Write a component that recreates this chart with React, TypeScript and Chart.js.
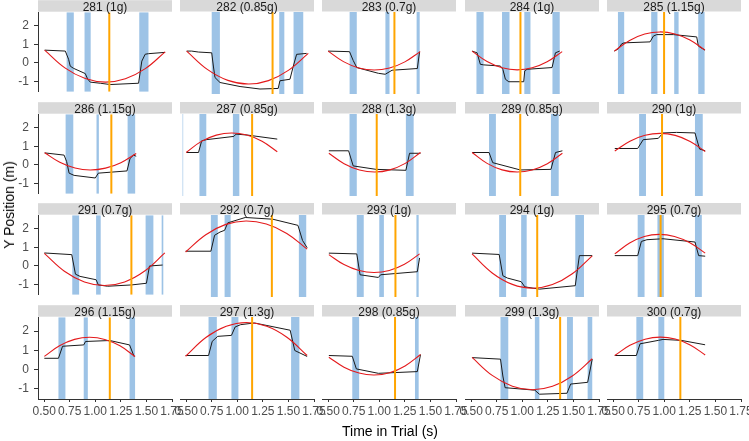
import React, { useEffect, useRef } from 'react';
import { Chart, registerables } from 'chart.js';

Chart.register(...registerables);

// ---------------- data ----------------
const trials = [281, 282, 283, 284, 285, 286, 287, 288, 289, 290, 291, 292, 293, 294, 295, 296, 297, 298, 299, 300];
const gLevels = ['1g', '0.85g', '0.7g', '1g', '1.15g', '1.15g', '0.85g', '1.3g', '0.85g', '1g', '0.7g', '0.7g', '1g', '1g', '0.7g', '1.15g', '1.3g', '0.85g', '1.3g', '0.7g'];

// orange vertical line (s)
const impactTimes = [1.137, 1.345, 1.148, 0.982, 0.998, 1.157, 1.145, 0.975, 0.98, 0.978, 1.353, 1.338, 1.158, 1.146, 0.964, 1.142, 1.145, 1.154, 1.37, 1.157];

// blue intervals [start, end] (s)
const bandIntervals = [
  [[0.72, 0.79], [0.895, 0.955], [1.43, 1.52]],
  [[0.75, 0.83], [1.41, 1.46], [1.55, 1.645]],
  [[0.71, 0.78], [1.06, 1.1], [1.365, 1.395]],
  [[0.552, 0.622], [0.802, 0.875], [1.02, 1.08], [1.295, 1.366]],
  [[0.547, 0.608], [0.872, 0.933], [1.097, 1.14], [1.332, 1.394]],
  [[0.71, 0.785], [1.012, 1.035], [1.316, 1.39]],
  [[0.465, 0.471], [0.63, 0.697], [0.957, 1.02]],
  [[0.709, 0.78], [1.26, 1.336]],
  [[0.675, 0.742], [1.28, 1.356]],
  [[0.754, 0.821], [1.3, 1.376]],
  [[0.775, 0.842], [1.008, 1.053], [1.492, 1.568], [1.649, 1.665]],
  [[0.742, 0.809], [0.876, 0.935], [1.602, 1.674]],
  [[0.78, 0.848], [1.0, 1.045], [1.363, 1.385]],
  [[0.774, 0.841], [0.989, 1.043], [1.518, 1.603]],
  [[0.74, 0.807], [0.933, 0.996], [1.3, 1.367]],
  [[0.64, 0.708], [0.887, 0.927], [1.335, 1.389]],
  [[0.719, 0.8], [0.943, 1.011], [1.526, 1.607]],
  [[0.736, 0.803], [1.349, 1.385]],
  [[0.787, 0.863], [1.123, 1.167], [1.437, 1.495], [1.639, 1.684]],
  [[0.727, 0.794], [0.942, 1.0]],
];

// black tracked position
const trackTimes = [
  [0.505, 0.707, 0.739, 0.755, 0.788, 0.902, 0.925, 0.951, 1.049, 1.146, 1.423, 1.455, 1.488, 1.52, 1.683],
  [0.505, 0.554, 0.62, 0.75, 0.766, 0.782, 0.831, 1.027, 1.222, 1.4, 1.417, 1.515, 1.548, 1.58, 1.678],
  [0.5, 0.709, 0.745, 0.78, 0.991, 1.058, 1.125, 1.372, 1.394],
  [0.509, 0.558, 0.59, 0.623, 0.786, 0.81, 0.835, 0.868, 1.014, 1.024, 1.047, 1.291, 1.324, 1.366],
  [0.512, 0.551, 0.584, 0.607, 0.861, 0.893, 0.926, 1.089, 1.317, 1.333, 1.398],
  [0.505, 0.695, 0.72, 0.744, 0.793, 1.0, 1.03, 1.31, 1.34, 1.374, 1.4],
  [0.505, 0.621, 0.652, 0.697, 0.966, 0.988, 1.1, 1.391],
  [0.507, 0.7, 0.745, 0.969, 1.26, 1.296, 1.403],
  [0.509, 0.675, 0.711, 0.98, 1.28, 1.325, 1.392],
  [0.516, 0.74, 0.794, 0.942, 0.987, 1.12, 1.3, 1.345, 1.4],
  [0.502, 0.77, 0.806, 0.851, 1.008, 1.03, 1.12, 1.353, 1.5, 1.53, 1.658],
  [0.495, 0.742, 0.778, 0.831, 0.876, 0.907, 1.078, 1.347, 1.593, 1.638, 1.683],
  [0.507, 0.78, 0.812, 0.991, 1.013, 1.372, 1.394],
  [0.509, 0.774, 0.81, 0.854, 0.989, 1.025, 1.168, 1.518, 1.558, 1.684],
  [0.516, 0.74, 0.776, 0.83, 0.987, 1.3, 1.336, 1.4],
  [0.502, 0.64, 0.68, 0.887, 0.905, 1.142, 1.335, 1.38],
  [0.495, 0.719, 0.755, 0.809, 0.943, 0.979, 1.033, 1.167, 1.517, 1.562, 1.683],
  [0.507, 0.736, 0.776, 0.991, 1.372, 1.403],
  [0.509, 0.787, 0.81, 0.832, 1.123, 1.167, 1.437, 1.473, 1.639, 1.684],
  [0.516, 0.727, 0.763, 0.942, 0.987, 1.166, 1.399],
];
const trackY = [
  [0.69, 0.64, 0.2, -0.17, -0.29, -0.57, -0.86, -1.03, -1.09, -1.16, -1.09, 0.1, 0.47, 0.5, 0.57],
  [0.69, 0.69, 0.64, 0.6, -0.09, -0.69, -0.95, -1.16, -1.29, -1.26, -0.86, -0.78, -0.09, 0.52, 0.57],
  [0.69, 0.66, 0.2, -0.17, -0.47, -0.52, -0.31, -0.22, 0.66],
  [0.69, 0.6, 0.0, -0.03, -0.09, -0.26, -0.78, -0.91, -0.91, -0.34, -0.26, -0.17, 0.6, 0.69],
  [0.69, 0.81, 1.07, 1.12, 1.17, 1.47, 1.55, 1.55, 1.43, 0.95, 0.74],
  [0.65, 0.53, 0.18, -0.44, -0.56, -0.7, -0.44, -0.32, 0.35, 0.53, 0.47],
  [0.72, 0.72, 1.33, 1.39, 1.56, 1.68, 1.63, 1.42],
  [0.81, 0.81, 0.02, -0.16, -0.21, 0.68, 0.68],
  [0.72, 0.72, 0.19, -0.19, -0.16, 0.72, 0.81],
  [0.93, 0.93, 1.39, 1.46, 1.74, 1.77, 1.74, 0.9, 0.81],
  [0.7, 0.61, -0.44, -0.56, -0.74, -1.02, -1.09, -1.02, -0.93, 0.0, 0.05],
  [0.84, 0.84, 1.67, 1.84, 1.93, 2.32, 2.6, 2.51, 2.19, 1.4, 1.02],
  [0.74, 0.7, -0.39, -0.53, -0.39, -0.23, 0.49],
  [0.74, 0.67, -0.44, -0.56, -0.75, -1.02, -1.14, -0.96, 0.61, 0.61],
  [0.61, 0.61, 1.35, 1.44, 1.49, 1.32, 0.61, 0.58],
  [0.58, 0.58, 1.21, 1.28, 1.46, 1.51, 1.28, 0.67],
  [0.72, 0.72, 1.46, 1.72, 1.77, 2.21, 2.33, 2.42, 2.04, 0.98, 0.67],
  [0.72, 0.68, 0.02, -0.21, -0.12, 0.77],
  [0.61, 0.53, -0.35, -0.96, -1.09, -1.3, -1.25, -0.77, -0.68, 0.53],
  [0.72, 0.72, 1.33, 1.51, 1.56, 1.51, 1.28],
];

// red fitted curve
const fitTimes = [
  [0.505, 0.703, 0.902, 1.1, 1.294, 1.489, 1.683],
  [0.505, 0.707, 0.908, 1.11, 1.305, 1.499, 1.694],
  [0.5, 0.65, 0.8, 0.95, 1.1, 1.25, 1.4],
  [0.509, 0.656, 0.803, 0.95, 1.097, 1.243, 1.39],
  [0.512, 0.661, 0.809, 0.958, 1.105, 1.251, 1.398],
  [0.505, 0.653, 0.802, 0.95, 1.1, 1.25, 1.4],
  [0.5, 0.645, 0.795, 0.945, 1.094, 1.242, 1.391],
  [0.507, 0.656, 0.806, 0.955, 1.104, 1.254, 1.403],
  [0.509, 0.656, 0.803, 0.95, 1.097, 1.245, 1.392],
  [0.516, 0.664, 0.812, 0.96, 1.107, 1.253, 1.4],
  [0.502, 0.698, 0.894, 1.09, 1.287, 1.483, 1.68],
  [0.495, 0.692, 0.888, 1.085, 1.284, 1.484, 1.683],
  [0.507, 0.655, 0.802, 0.95, 1.098, 1.246, 1.394],
  [0.509, 0.706, 0.903, 1.1, 1.295, 1.489, 1.684],
  [0.516, 0.661, 0.805, 0.95, 1.1, 1.25, 1.4],
  [0.502, 0.65, 0.797, 0.945, 1.093, 1.241, 1.389],
  [0.495, 0.693, 0.892, 1.09, 1.288, 1.485, 1.683],
  [0.507, 0.655, 0.802, 0.95, 1.101, 1.252, 1.403],
  [0.509, 0.706, 0.903, 1.1, 1.295, 1.489, 1.684],
  [0.516, 0.664, 0.812, 0.96, 1.107, 1.253, 1.4],
];
const fitY = [
  [0.69, -0.266, -0.839, -1.03, -0.849, -0.306, 0.6],
  [0.69, -0.266, -0.839, -1.03, -0.852, -0.319, 0.57],
  [0.69, 0.14, -0.19, -0.3, -0.193, 0.127, 0.66],
  [0.69, 0.146, -0.181, -0.29, -0.184, 0.132, 0.66],
  [0.69, 1.246, 1.579, 1.69, 1.584, 1.268, 0.74],
  [0.66, 0.143, -0.167, -0.27, -0.171, 0.126, 0.62],
  [0.72, 1.287, 1.627, 1.74, 1.631, 1.304, 0.76],
  [0.68, 0.136, -0.191, -0.3, -0.187, 0.153, 0.72],
  [0.72, 0.153, -0.187, -0.3, -0.191, 0.136, 0.68],
  [0.8, 1.311, 1.618, 1.72, 1.614, 1.298, 0.77],
  [0.68, -0.281, -0.858, -1.05, -0.856, -0.272, 0.7],
  [0.8, 1.7, 2.24, 2.42, 2.257, 1.767, 0.95],
  [0.66, 0.143, -0.167, -0.27, -0.162, 0.161, 0.7],
  [0.7, -0.294, -0.891, -1.09, -0.902, -0.339, 0.6],
  [0.7, 1.267, 1.607, 1.72, 1.611, 1.284, 0.74],
  [0.68, 1.236, 1.569, 1.68, 1.568, 1.231, 0.67],
  [0.68, 1.658, 2.244, 2.44, 2.249, 1.676, 0.72],
  [0.63, 0.113, -0.197, -0.3, -0.181, 0.176, 0.77],
  [0.62, -0.319, -0.882, -1.07, -0.89, -0.35, 0.55],
  [0.72, 1.253, 1.573, 1.68, 1.577, 1.267, 0.75],
];

const xTickValues = [0.5, 0.75, 1.0, 1.25, 1.5, 1.75];
const yTickValues = [-1, 0, 1, 2];

// ---------------- layout ----------------
const X_MIN = 0.44;
const X_MAX = 1.75;
const Y_MIN = -1.55;
const Y_MAX = 2.73;
const COL_LEFT = [38, 180, 322, 465, 607];
const ROW_TOP = [12, 114, 215, 317];
const PLOT_W = 134;
const PLOT_H = 82;
const AXIS_W = 38;
const STRIP_H = 12;
const RIGHT_PAD = 18;
const BOTTOM_PAD = 10;
const XAXIS_H = 30;
const FONT = '"Liberation Sans", Arial, Helvetica, sans-serif';

Chart.defaults.font.family = FONT;

const stripPlugin = {
  id: 'strip',
  afterDraw(chart: any, _args: any, opts: any) {
    const { ctx, chartArea } = chart;
    ctx.save();
    ctx.fillStyle = '#D9D9D9';
    ctx.fillRect(chartArea.left, chartArea.top - STRIP_H, chartArea.right - chartArea.left, STRIP_H - 0.5);
    ctx.fillStyle = '#1A1A1A';
    ctx.font = `12px ${FONT}`;
    ctx.textAlign = 'center';
    ctx.textBaseline = 'alphabetic';
    ctx.fillText(opts.label, (chartArea.left + chartArea.right) / 2, chartArea.top - 1);
    ctx.restore();
  },
};

const bandPlugin = {
  id: 'bands',
  beforeDatasetsDraw(chart: any, _args: any, opts: any) {
    const { ctx, chartArea, scales } = chart;
    ctx.save();
    ctx.beginPath();
    ctx.rect(chartArea.left, chartArea.top, chartArea.right - chartArea.left, chartArea.bottom - chartArea.top);
    ctx.clip();
    ctx.fillStyle = '#9DC3E6';
    for (const [s, e] of opts.intervals as number[][]) {
      const x1 = scales.x.getPixelForValue(s);
      const x2 = scales.x.getPixelForValue(e);
      ctx.fillRect(x1, chartArea.top, Math.max(x2 - x1, 0.6), chartArea.bottom - chartArea.top);
    }
    ctx.restore();
  },
};

function Panel({ idx }: { idx: number }) {
  const ref = useRef<HTMLCanvasElement | null>(null);
  const col = idx % 5;
  const row = Math.floor(idx / 5);
  const showY = col === 0;
  const showX = row === 3;
  const cw = AXIS_W + PLOT_W + RIGHT_PAD;
  const ch = STRIP_H + PLOT_H + (showX ? XAXIS_H : BOTTOM_PAD);

  useEffect(() => {
    if (!ref.current) return;
    const track = trackTimes[idx].map((t, i) => ({ x: t, y: trackY[idx][i] }));
    const fit = fitTimes[idx].map((t, i) => ({ x: t, y: fitY[idx][i] }));
    const chart = new Chart(ref.current, {
      type: 'scatter',
      data: {
        datasets: [
          {
            data: [{ x: impactTimes[idx], y: Y_MIN }, { x: impactTimes[idx], y: Y_MAX }],
            showLine: true,
            borderColor: '#FFA500',
            borderWidth: 2,
            pointRadius: 0,
          },
          {
            data: fit,
            showLine: true,
            borderColor: '#E41A1C',
            borderWidth: 1.1,
            pointRadius: 0,
            tension: 0.4,
          },
          {
            data: track,
            showLine: true,
            borderColor: '#1A1A1A',
            borderWidth: 1,
            pointRadius: 0,
          },
        ],
      } as any,
      options: {
        animation: false,
        responsive: false,
        maintainAspectRatio: false,
        events: [],
        layout: {
          padding: { left: showY ? 0 : AXIS_W, right: RIGHT_PAD, top: STRIP_H, bottom: showX ? 0 : BOTTOM_PAD },
        },
        plugins: {
          legend: { display: false },
          tooltip: { enabled: false },
          title: { display: false },
          strip: { label: `${trials[idx]} (${gLevels[idx]})` },
          bands: { intervals: bandIntervals[idx] },
        } as any,
        scales: {
          x: {
            type: 'linear',
            min: X_MIN,
            max: X_MAX,
            display: showX,
            afterBuildTicks: (s: any) => {
              s.ticks = xTickValues.map((v) => ({ value: v }));
            },
            afterFit: (s: any) => {
              s.height = showX ? XAXIS_H : 0;
            },
            ticks: {
              autoSkip: false,
              maxRotation: 0,
              minRotation: 0,
              color: '#4D4D4D',
              font: { size: 12, family: FONT },
              padding: 2,
              callback: (v: any) => Number(v).toFixed(2),
            },
            grid: { display: true, drawOnChartArea: false, drawTicks: true, tickLength: 3, color: '#333333', lineWidth: 1 },
            border: { display: true, color: '#333333', width: 1 },
          },
          y: {
            type: 'linear',
            min: Y_MIN,
            max: Y_MAX,
            display: showY,
            afterBuildTicks: (s: any) => {
              s.ticks = yTickValues.map((v) => ({ value: v }));
            },
            afterFit: (s: any) => {
              s.width = showY ? AXIS_W : 0;
            },
            ticks: {
              color: '#4D4D4D',
              font: { size: 12, family: FONT },
              padding: 5,
              callback: (v: any) => String(v),
            },
            grid: { display: true, drawOnChartArea: false, drawTicks: true, tickLength: 4, color: '#333333', lineWidth: 1 },
            border: { display: true, color: '#333333', width: 1 },
          },
        },
      } as any,
      plugins: [bandPlugin, stripPlugin],
    });
    return () => chart.destroy();
  }, [idx]);

  return (
    <canvas
      ref={ref}
      width={cw}
      height={ch}
      style={{
        position: 'absolute',
        left: COL_LEFT[col] - AXIS_W,
        top: ROW_TOP[row] - STRIP_H,
        width: cw,
        height: ch,
      }}
    />
  );
}

export default function App() {
  return (
    <div style={{ position: 'absolute', left: 0, top: 0, width: 749, height: 441, background: '#FFFFFF', overflow: 'hidden' }}>
      {trials.map((_, i) => (
        <Panel key={i} idx={i} />
      ))}
      <div
        style={{
          position: 'absolute',
          left: 0,
          top: 424,
          width: 780,
          textAlign: 'center',
          font: `14px ${FONT}`,
          lineHeight: '14px',
          color: '#000000',
          whiteSpace: 'nowrap',
        }}
      >
        Time in Trial (s)
      </div>
      <div
        style={{
          position: 'absolute',
          left: 9,
          top: 205,
          transform: 'translate(-50%, -50%) rotate(-90deg)',
          font: `14px ${FONT}`,
          lineHeight: '14px',
          color: '#000000',
          whiteSpace: 'nowrap',
        }}
      >
        Y Position (m)
      </div>
    </div>
  );
}
